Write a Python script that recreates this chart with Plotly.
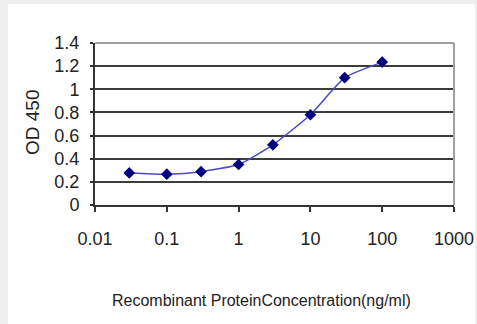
import plotly.graph_objects as go

concentration = [0.03, 0.1, 0.3, 1, 3, 10, 30, 100]
od450 = [0.277, 0.266, 0.288, 0.35, 0.52, 0.78, 1.10, 1.235]
x_ticks = [0.01, 0.1, 1, 10, 100, 1000]
x_tick_labels = ["0.01", "0.1", "1", "10", "100", "1000"]
y_ticks = [0, 0.2, 0.4, 0.6, 0.8, 1, 1.2, 1.4]
y_tick_labels = ["0", "0.2", "0.4", "0.6", "0.8", "1", "1.2", "1.4"]
x_title = "Recombinant ProteinConcentration(ng/ml)"
y_title = "OD 450"

W, H = 477, 324
L, R, T, B = 95, 454, 43, 205

def px_x(p):
    return (p - L) / (R - L)

def px_y(p):
    return (B - p) / (B - T)

fig = go.Figure()
fig.add_trace(go.Scatter(
    x=concentration, y=od450, mode="lines+markers",
    line=dict(color="#4a4ac4", width=1.5, shape="spline", smoothing=0.5),
    marker=dict(symbol="diamond", size=9, color="#000080"),
    showlegend=False, hoverinfo="skip",
))

font = dict(family="Liberation Sans, Arial, sans-serif", color="#222222")

fig.update_layout(
    width=W, height=H,
    margin=dict(l=L, r=W - R, t=T, b=H - B, pad=0, autoexpand=False),
    paper_bgcolor="#eeeeee",
    plot_bgcolor="white",
    font=font,
    shapes=[
        dict(type="rect", xref="paper", yref="paper", layer="below",
             x0=px_x(8), x1=px_x(475), y0=px_y(H + 5), y1=px_y(4),
             fillcolor="white", line=dict(width=0)),
        dict(type="line", xref="paper", yref="paper",
             x0=0, x1=1, y0=1, y1=1, line=dict(color="#a0a0a0", width=2)),
        dict(type="line", xref="paper", yref="paper",
             x0=1, x1=1, y0=0, y1=1, line=dict(color="#a0a0a0", width=2)),
    ],
    annotations=[
        dict(text=x_title, xref="paper", yref="paper",
             x=px_x(261), y=px_y(300), xanchor="center", yanchor="middle",
             showarrow=False, font=dict(size=16, **font)),
        dict(text=y_title, xref="paper", yref="paper", textangle=-90,
             x=px_x(32), y=px_y(123), xanchor="center", yanchor="middle",
             showarrow=False, font=dict(size=19, **font)),
    ],
    xaxis=dict(
        type="log", range=[-2, 3], automargin=False,
        tickvals=x_ticks, ticktext=x_tick_labels,
        ticks="outside", ticklen=5, tickwidth=1.5, tickcolor="#333333",
        showline=True, linecolor="#333333", linewidth=2,
        showgrid=False, zeroline=False,
        tickfont=dict(size=18, **font),
        ticklabelstandoff=11,
    ),
    yaxis=dict(
        range=[0, 1.4], automargin=False,
        tickvals=y_ticks, ticktext=y_tick_labels,
        ticks="outside", ticklen=3, tickwidth=1.5, tickcolor="#333333",
        showline=True, linecolor="#333333", linewidth=2,
        showgrid=True, gridcolor="#3c3c3c", gridwidth=2,
        zeroline=False,
        tickfont=dict(size=18, **font),
        ticklabelstandoff=7,
    ),
)

fig.write_html(
    "out.html",
    config={"displayModeBar": False},
    post_script="document.body.style.margin='0';document.body.style.overflow='hidden';",
)
